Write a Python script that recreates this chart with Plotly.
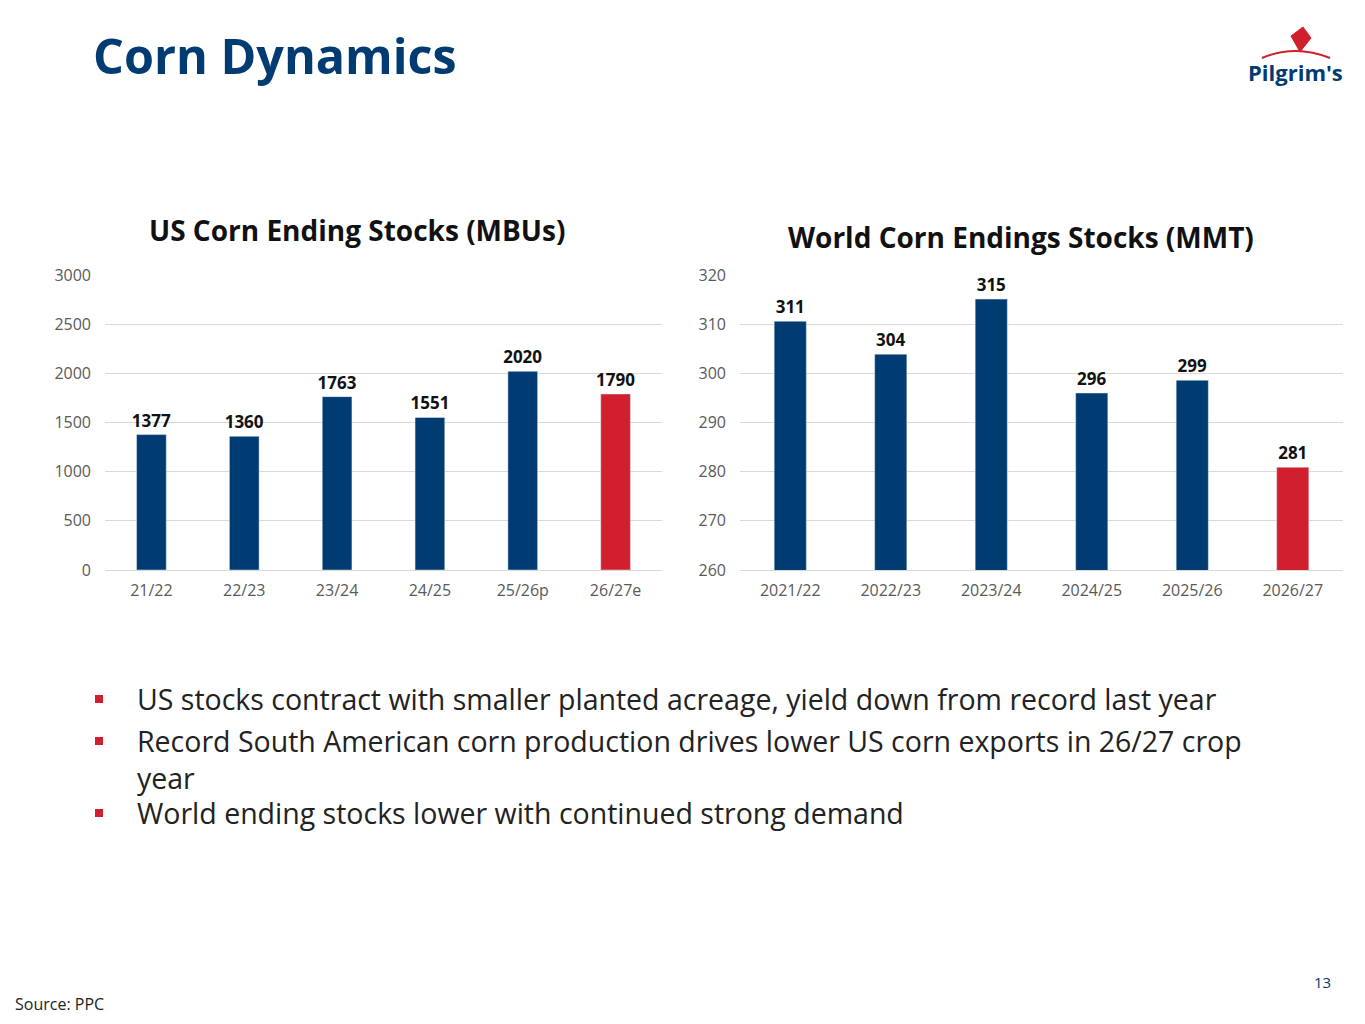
import plotly.graph_objects as go

# data
us_years = ["21/22", "22/23", "23/24", "24/25", "25/26p", "26/27e"]
us_stocks = [1377, 1360, 1763, 1551, 2020, 1790]

world_years = ["2021/22", "2022/23", "2023/24", "2024/25", "2025/26", "2026/27"]
world_stocks = [310.6, 303.9, 315.1, 296.0, 298.6, 280.9]

bullets = [
    "US stocks contract with smaller planted acreage, yield down from record last year",
    "Record South American corn production drives lower US corn exports in 26/27 crop<br>year",
    "World ending stocks lower with continued strong demand",
]

BLUE = "#003B71"
RED = "#D0202E"
FONT = "Open Sans"
W, H = 1365, 1024
OFF = 8  # page body margin


def px(x):
    return (x - OFF) / W


def py(y):
    return 1 - (y - OFF) / H


def bar_colors(n):
    return [BLUE] * (n - 1) + [RED]


fig = go.Figure()

fig.add_trace(go.Bar(
    x=us_years, y=us_stocks, marker_color=bar_colors(len(us_years)),
    width=0.32, texttemplate="%{y:.0f}", textposition="outside", constraintext="none",
    textfont=dict(size=17, color="#111", family=FONT, weight="bold"),
    cliponaxis=False, xaxis="x", yaxis="y",
))
fig.add_trace(go.Bar(
    x=world_years, y=world_stocks, marker_color=bar_colors(len(world_years)),
    width=0.32, texttemplate="%{y:.0f}", textposition="outside", constraintext="none",
    textfont=dict(size=17, color="#111", family=FONT, weight="bold"),
    cliponaxis=False, xaxis="x2", yaxis="y2",
))

tickfont = dict(size=16, color="#595959", family=FONT)
xcommon = dict(showgrid=False, zeroline=False, showline=True, linecolor="#D9D9D9",
               ticks="", tickfont=tickfont, automargin=False, ticklabelstandoff=6)
ycommon = dict(ticks="", showline=False, zeroline=False, showgrid=True,
               gridcolor="#D9D9D9", tickfont=tickfont, automargin=False,
               ticklabelstandoff=13)

fig.update_layout(
    width=W, height=H,
    margin=dict(l=0, r=0, t=0, b=0, autoexpand=False),
    paper_bgcolor="white", plot_bgcolor="white",
    showlegend=False,
    font=dict(family=FONT),
    xaxis=dict(domain=[px(105), px(662)], anchor="y", **xcommon),
    yaxis=dict(domain=[py(570), py(275)], anchor="x", range=[0, 3000], dtick=500, **ycommon),
    xaxis2=dict(domain=[px(740), px(1343)], anchor="y2", **xcommon),
    yaxis2=dict(domain=[py(570), py(275)], anchor="x2", range=[260, 320], dtick=10, **ycommon),
)

annotations = [
    dict(text="<b>Corn Dynamics</b>", x=px(91), y=py(55), xanchor="left",
         yanchor="middle", font=dict(size=48.5, color=BLUE, family=FONT)),
    dict(text="<b>US Corn Ending Stocks (MBUs)</b>", x=px(357), y=py(230),
         xanchor="center", yanchor="middle", font=dict(size=28, color="#111", family=FONT)),
    dict(text="<b>World Corn Endings Stocks (MMT)</b>", x=px(1021), y=py(237),
         xanchor="center", yanchor="middle", font=dict(size=28, color="#111", family=FONT)),
    dict(text="Source: PPC", x=px(13), y=py(1004), xanchor="left",
         yanchor="middle", font=dict(size=16, color="#222", family=FONT)),
    dict(text="13", x=px(1333), y=py(982), xanchor="right",
         yanchor="middle", font=dict(size=15, color=BLUE, family=FONT)),
    dict(text="<b>Pilgrim's</b>", x=px(1295), y=py(72), xanchor="center",
         yanchor="middle", font=dict(size=22, color=BLUE, family=FONT)),
]

shapes = [
    # logo arc and plume
    dict(type="path", xref="paper", yref="paper",
         path="M %f %f Q %f %f %f %f" % (px(1262), py(58), px(1295), py(44), px(1330), py(58)),
         line=dict(color=RED, width=2)),
    dict(type="path", xref="paper", yref="paper",
         path="M %f %f L %f %f L %f %f L %f %f Z" % (px(1300), py(52), px(1291), py(36),
                                                     px(1303), py(27), px(1311), py(38)),
         fillcolor=RED, line=dict(color=RED, width=1)),
]

y = 699
for text in bullets:
    shapes.append(dict(type="rect", xref="paper", yref="paper",
                       x0=px(95), x1=px(103), y0=py(y + 4), y1=py(y - 4),
                       fillcolor=RED, line=dict(width=0)))
    annotations.append(dict(text=text, x=px(135), y=py(y - 21), xanchor="left",
                            yanchor="top", align="left",
                            font=dict(size=28.5, color="#222", family=FONT)))
    y += 42 + 30 * text.count("<br>")

for a in annotations:
    a.update(xref="paper", yref="paper", showarrow=False)

fig.update_layout(annotations=annotations, shapes=shapes)

fig.write_html("out.html")
